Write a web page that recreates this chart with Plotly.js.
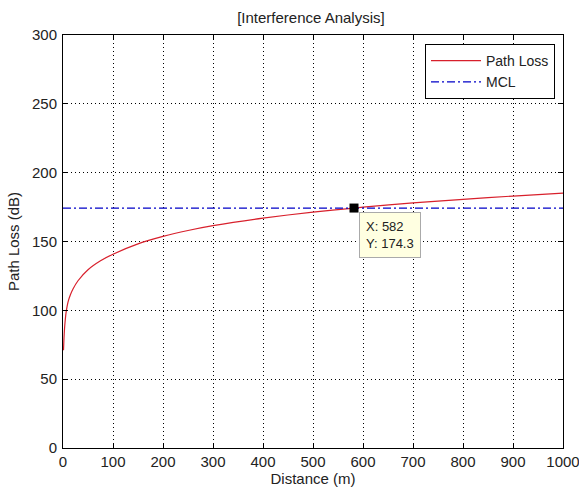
<!DOCTYPE html>
<html>
<head>
<meta charset="utf-8">
<script src="https://cdn.plot.ly/plotly-3.0.1.min.js"></script>
<style>html,body{margin:0;padding:0;background:#fff;}#chart{width:579px;height:490px;}</style>
</head>
<body>
<div id="chart"></div>
<script>
// Values
const distance = [1, 2, 3, 4, 6, 8, 10, 15, 20, 30, 50, 75, 100, 150, 200, 250, 300, 400, 500, 582, 600, 700, 800, 900, 1000];
const pathLoss = [71, 80, 86.5, 91, 98, 102.5, 106, 111.5, 115.5, 121.5, 129.5, 136, 140.8, 148.3, 153.7, 158, 161.5, 167, 171.4, 174.3, 174.9, 178, 180.6, 183, 185.2];
const mclX = [0, 1000];
const mclY = [174.3, 174.3];
const tipX = [582];
const tipY = [174.3];
const xTicks = [0, 100, 200, 300, 400, 500, 600, 700, 800, 900, 1000];
const yTicks = [0, 50, 100, 150, 200, 250, 300];

const FONT = '"Liberation Sans", Arial, sans-serif';

const traces = [
  {x: distance, y: pathLoss, type: 'scatter', mode: 'lines', name: 'Path Loss',
   line: {color: '#d8202c', width: 1.2, shape: 'spline', smoothing: 0.6}, legendgroup: 'a'},
  {x: mclX, y: mclY, type: 'scatter', mode: 'lines', name: 'MCL',
   line: {color: '#0000c8', width: 1.2, dash: '8px,3px,2px,3px'}, legendgroup: 'b'},
  {x: tipX, y: tipY, type: 'scatter', mode: 'markers', showlegend: false,
   marker: {symbol: 'square', size: 9, color: '#000'}}
];

const axisCommon = {
  showline: true, linecolor: '#000', linewidth: 1, mirror: 'ticks',
  ticks: 'inside', ticklen: 5, tickcolor: '#000', tickwidth: 1,
  showgrid: true, gridcolor: '#000', gridwidth: 1, griddash: '1px,3px',
  zeroline: false, ticklabeloverflow: 'allow',
  tickfont: {family: FONT, size: 15, color: '#222'}
};

const layout = {
  width: 579, height: 490,
  margin: {l: 63, r: 16, t: 35, b: 42, pad: 0},
  paper_bgcolor: '#fff', plot_bgcolor: '#fff',
  font: {family: FONT, size: 15, color: '#222'},
  title: {text: '[Interference Analysis]', x: 0.537, xanchor: 'center', y: 0.963, yanchor: 'middle',
          font: {family: FONT, size: 15, color: '#222'}},
  xaxis: Object.assign({}, axisCommon, {range: [0, 1000.001], tickvals: xTicks, ticktext: xTicks.map(String),
          title: {text: 'Distance (m)', standoff: 2, font: {family: FONT, size: 15, color: '#222'}}}),
  yaxis: Object.assign({}, axisCommon, {range: [0, 300.001], tickvals: yTicks, ticktext: yTicks.map(String),
          ticklabelstandoff: 2,
          title: {text: 'Path Loss (dB)', standoff: 8, font: {family: FONT, size: 15, color: '#222'}}}),
  showlegend: true,
  legend: {x: 0.984, xanchor: 'right', y: 0.978, yanchor: 'top', bgcolor: '#fff',
           bordercolor: '#000', borderwidth: 1, tracegroupgap: 0, itemwidth: 50,
           font: {family: FONT, size: 14, color: '#222'}},
  annotations: [{
    x: tipX[0], y: tipY[0], xref: 'x', yref: 'y', showarrow: false,
    xanchor: 'left', yanchor: 'top', xshift: 5, yshift: -4,
    text: 'X: ' + tipX[0] + '<br>Y: ' + tipY[0], align: 'left',
    bgcolor: '#ffffe1', bordercolor: '#aaa', borderwidth: 1, borderpad: 6,
    font: {family: FONT, size: 13, color: '#222'}
  }]
};

Plotly.newPlot('chart', traces, layout, {displayModeBar: false, staticPlot: true});
</script>
</body>
</html>
